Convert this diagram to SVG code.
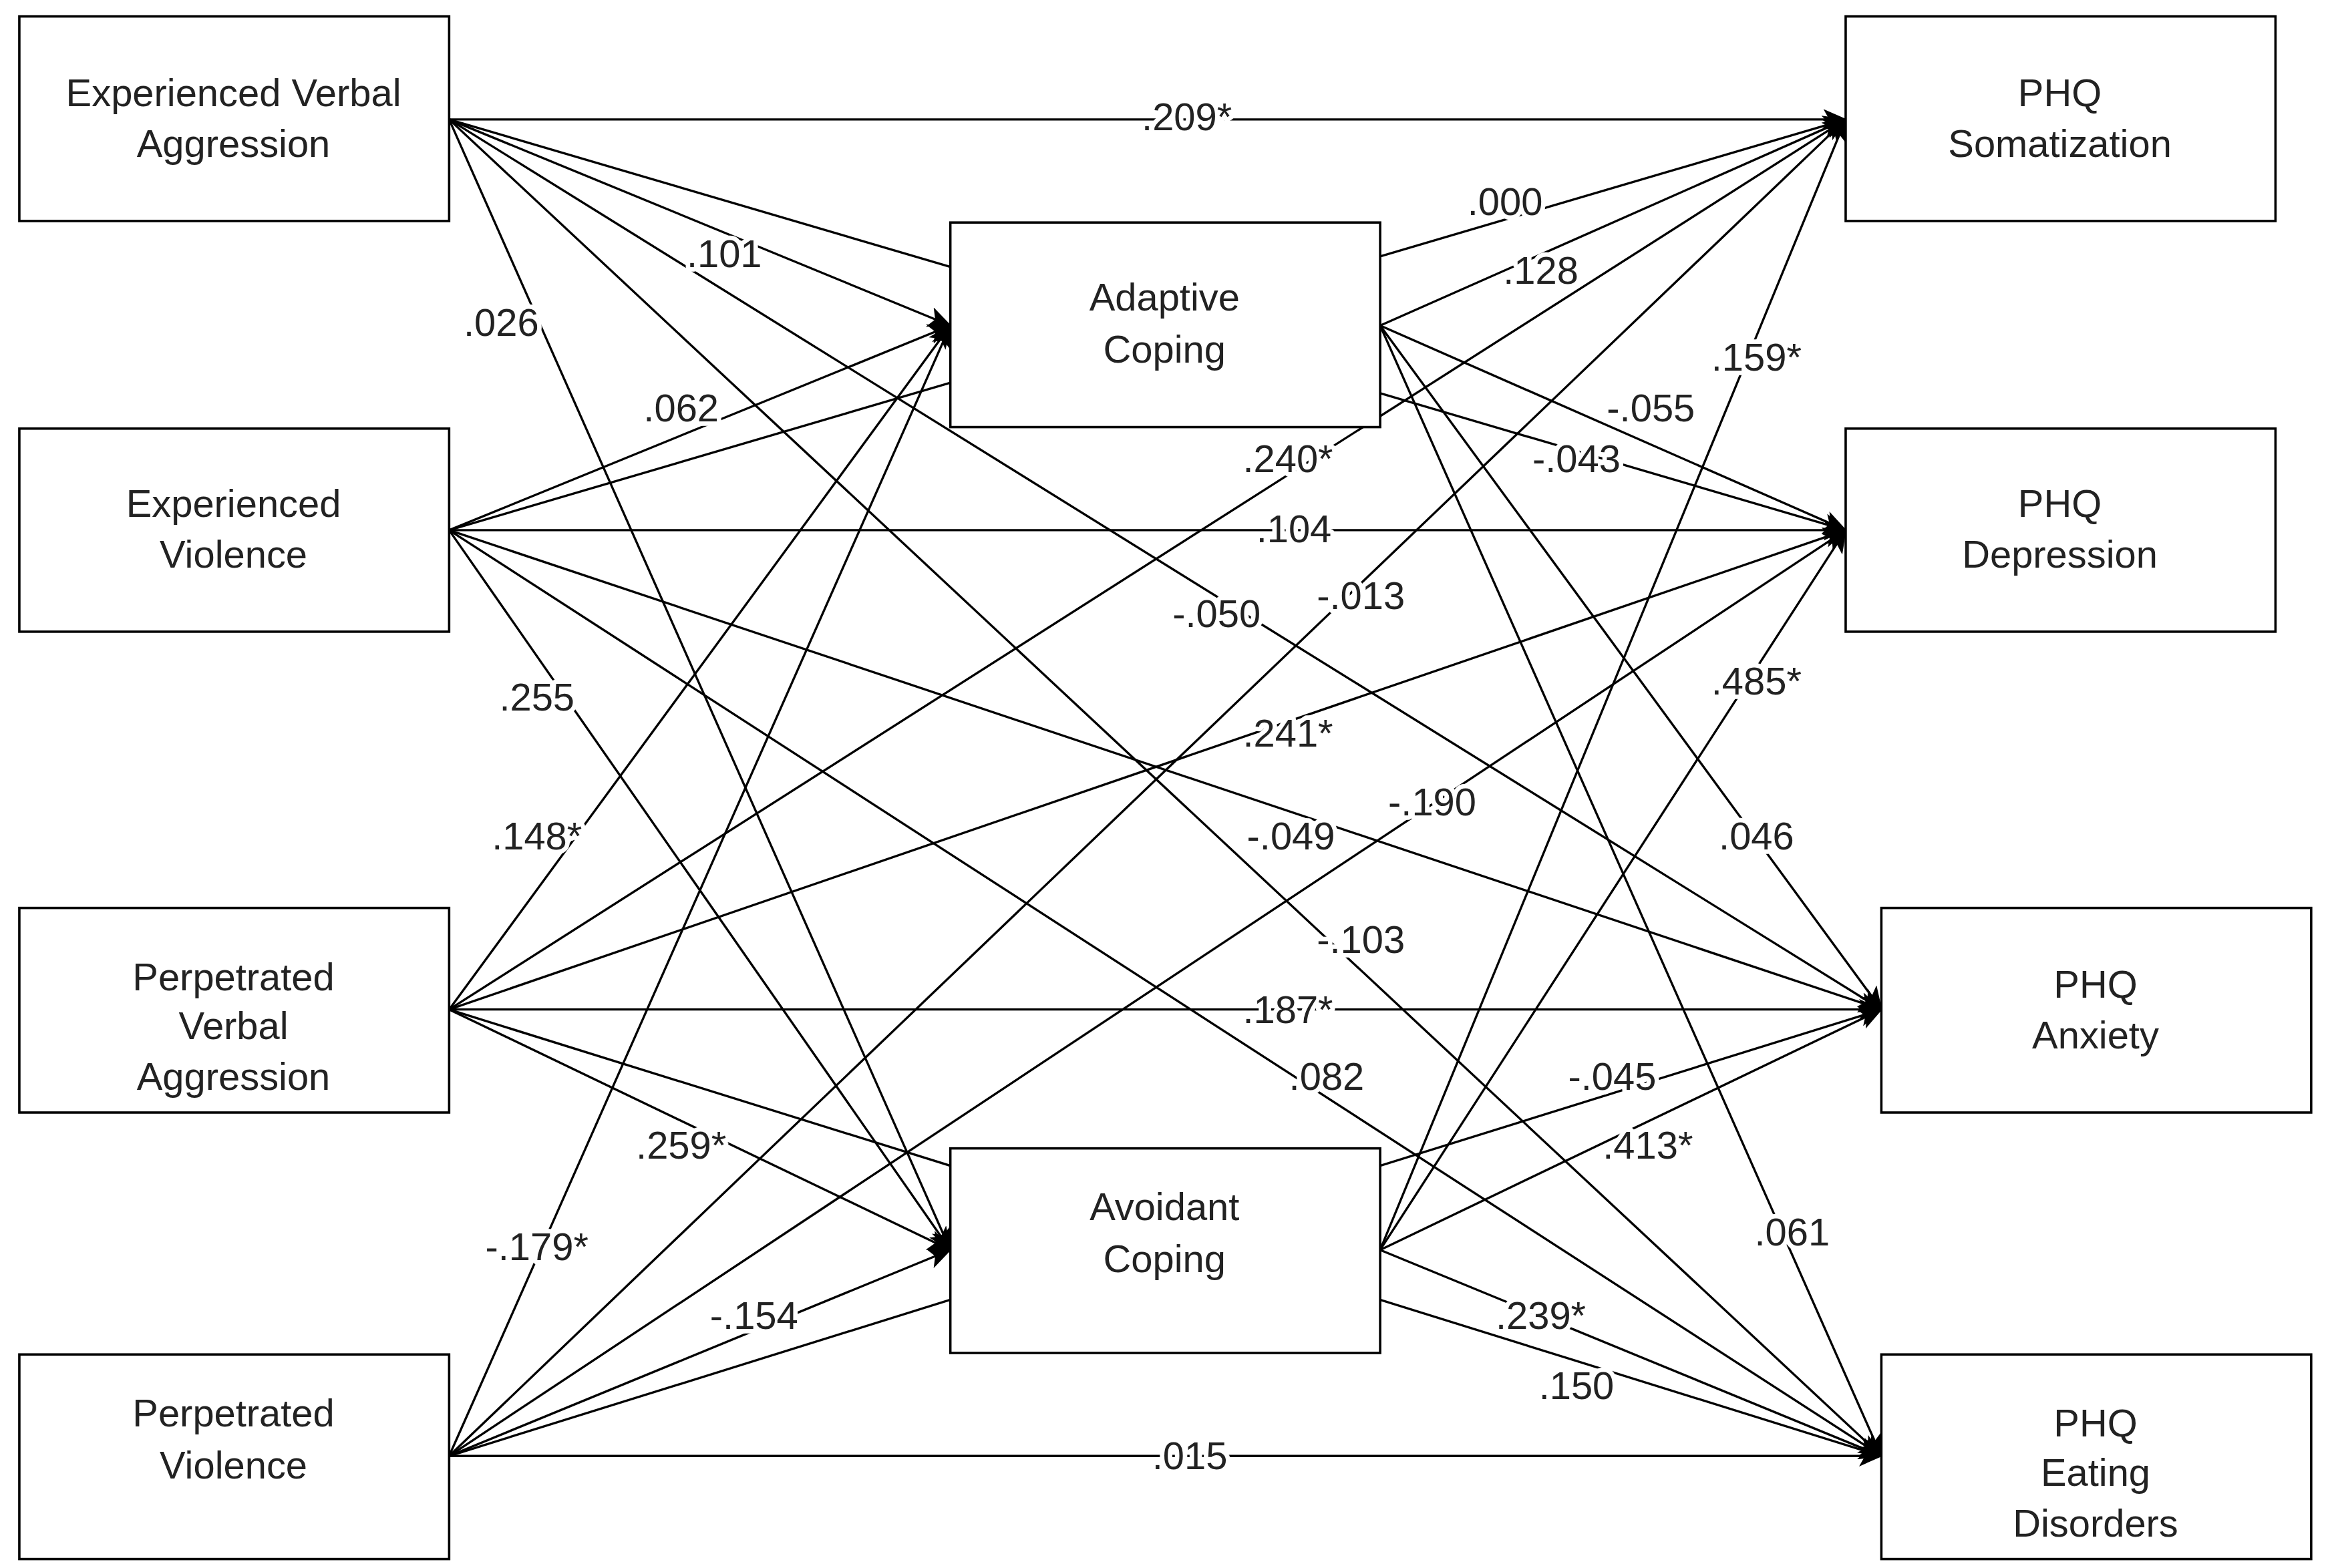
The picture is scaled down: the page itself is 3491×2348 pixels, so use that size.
<svg xmlns="http://www.w3.org/2000/svg" width="3491" height="2348" viewBox="0 0 3491 2348">
<style>
.box{fill:#fff;stroke:#000;stroke-width:1.6}
.t{font-family:"Liberation Sans",Arial,sans-serif;font-size:26px;fill:#222;text-anchor:middle}
.l{font-family:"Liberation Sans",Arial,sans-serif;font-size:26px;fill:#222;text-anchor:middle;stroke:#fff;stroke-width:6px;paint-order:stroke;stroke-linejoin:round}
#edges line{stroke:#000;stroke-width:1.5;marker-end:url(#ah)}
</style>
<defs>
<marker id="ah" markerUnits="userSpaceOnUse" markerWidth="16" markerHeight="14" refX="15" refY="7" orient="auto">
<path d="M0,0 L16,7 L0,14 L4,7 Z" fill="#000"/>
</marker>
</defs>
<rect width="3491" height="2348" fill="#fff"/>
<g transform="scale(2.2264 2.2362)">
<g id="edges">
<line x1="302" y1="80" x2="639" y2="218"/>
<line x1="302" y1="80" x2="639" y2="837"/>
<line x1="302" y1="80" x2="1241" y2="80"/>
<line x1="302" y1="80" x2="1241" y2="355"/>
<line x1="302" y1="80" x2="1265" y2="676"/>
<line x1="302" y1="80" x2="1265" y2="975"/>
<line x1="302" y1="355" x2="639" y2="218"/>
<line x1="302" y1="355" x2="639" y2="837"/>
<line x1="302" y1="355" x2="1241" y2="80"/>
<line x1="302" y1="355" x2="1241" y2="355"/>
<line x1="302" y1="355" x2="1265" y2="676"/>
<line x1="302" y1="355" x2="1265" y2="975"/>
<line x1="302" y1="676" x2="639" y2="218"/>
<line x1="302" y1="676" x2="639" y2="837"/>
<line x1="302" y1="676" x2="1241" y2="80"/>
<line x1="302" y1="676" x2="1241" y2="355"/>
<line x1="302" y1="676" x2="1265" y2="676"/>
<line x1="302" y1="676" x2="1265" y2="975"/>
<line x1="302" y1="975" x2="639" y2="218"/>
<line x1="302" y1="975" x2="639" y2="837"/>
<line x1="302" y1="975" x2="1241" y2="80"/>
<line x1="302" y1="975" x2="1241" y2="355"/>
<line x1="302" y1="975" x2="1265" y2="676"/>
<line x1="302" y1="975" x2="1265" y2="975"/>
<line x1="928" y1="218" x2="1241" y2="80"/>
<line x1="928" y1="218" x2="1241" y2="355"/>
<line x1="928" y1="218" x2="1265" y2="676"/>
<line x1="928" y1="218" x2="1265" y2="975"/>
<line x1="928" y1="837" x2="1241" y2="80"/>
<line x1="928" y1="837" x2="1241" y2="355"/>
<line x1="928" y1="837" x2="1265" y2="676"/>
<line x1="928" y1="837" x2="1265" y2="975"/>
</g>
<g id="labels">
<text class="l" x="798" y="87">.209*</text>
<text class="l" x="1012" y="144">.000</text>
<text class="l" x="487" y="179">.101</text>
<text class="l" x="1036" y="190">.128</text>
<text class="l" x="337" y="225">.026</text>
<text class="l" x="1181" y="248">.159*</text>
<text class="l" x="458" y="282">.062</text>
<text class="l" x="1110" y="282">-.055</text>
<text class="l" x="866" y="316">.240*</text>
<text class="l" x="1060" y="316">-.043</text>
<text class="l" x="870" y="363">.104</text>
<text class="l" x="915" y="408">-.013</text>
<text class="l" x="818" y="420">-.050</text>
<text class="l" x="361" y="476">.255</text>
<text class="l" x="1181" y="465">.485*</text>
<text class="l" x="866" y="500">.241*</text>
<text class="l" x="361" y="569">.148*</text>
<text class="l" x="963" y="546">-.190</text>
<text class="l" x="868" y="569">-.049</text>
<text class="l" x="1181" y="569">.046</text>
<text class="l" x="915" y="638">-.103</text>
<text class="l" x="866" y="685">.187*</text>
<text class="l" x="892" y="730">.082</text>
<text class="l" x="1084" y="730">-.045</text>
<text class="l" x="458" y="776">.259*</text>
<text class="l" x="1108" y="776">.413*</text>
<text class="l" x="361" y="844">-.179*</text>
<text class="l" x="1205" y="834">.061</text>
<text class="l" x="507" y="890">-.154</text>
<text class="l" x="1036" y="890">.239*</text>
<text class="l" x="1060" y="937">.150</text>
<text class="l" x="800" y="984">.015</text>
</g>
<g id="n1"><rect class="box" x="13" y="11" width="289" height="137"/><text class="t" x="157" y="71">Experienced Verbal</text><text class="t" x="157" y="105">Aggression</text></g>
<g id="n2"><rect class="box" x="13" y="287" width="289" height="136"/><text class="t" x="157" y="346">Experienced</text><text class="t" x="157" y="380">Violence</text></g>
<g id="n3"><rect class="box" x="13" y="608" width="289" height="137"/><text class="t" x="157" y="663">Perpetrated</text><text class="t" x="157" y="696">Verbal</text><text class="t" x="157" y="730">Aggression</text></g>
<g id="n4"><rect class="box" x="13" y="907" width="289" height="137"/><text class="t" x="157" y="955">Perpetrated</text><text class="t" x="157" y="990">Violence</text></g>
<g id="n5"><rect class="box" x="639" y="149" width="289" height="137"/><text class="t" x="783" y="208">Adaptive</text><text class="t" x="783" y="243">Coping</text></g>
<g id="n6"><rect class="box" x="639" y="769" width="289" height="137"/><text class="t" x="783" y="817">Avoidant</text><text class="t" x="783" y="852">Coping</text></g>
<g id="n7"><rect class="box" x="1241" y="11" width="289" height="137"/><text class="t" x="1385" y="71">PHQ</text><text class="t" x="1385" y="105">Somatization</text></g>
<g id="n8"><rect class="box" x="1241" y="287" width="289" height="136"/><text class="t" x="1385" y="346">PHQ</text><text class="t" x="1385" y="380">Depression</text></g>
<g id="n9"><rect class="box" x="1265" y="608" width="289" height="137"/><text class="t" x="1409" y="668">PHQ</text><text class="t" x="1409" y="702">Anxiety</text></g>
<g id="n10"><rect class="box" x="1265" y="907" width="289" height="137"/><text class="t" x="1409" y="962">PHQ</text><text class="t" x="1409" y="995">Eating</text><text class="t" x="1409" y="1029">Disorders</text></g>
</g>
</svg>
